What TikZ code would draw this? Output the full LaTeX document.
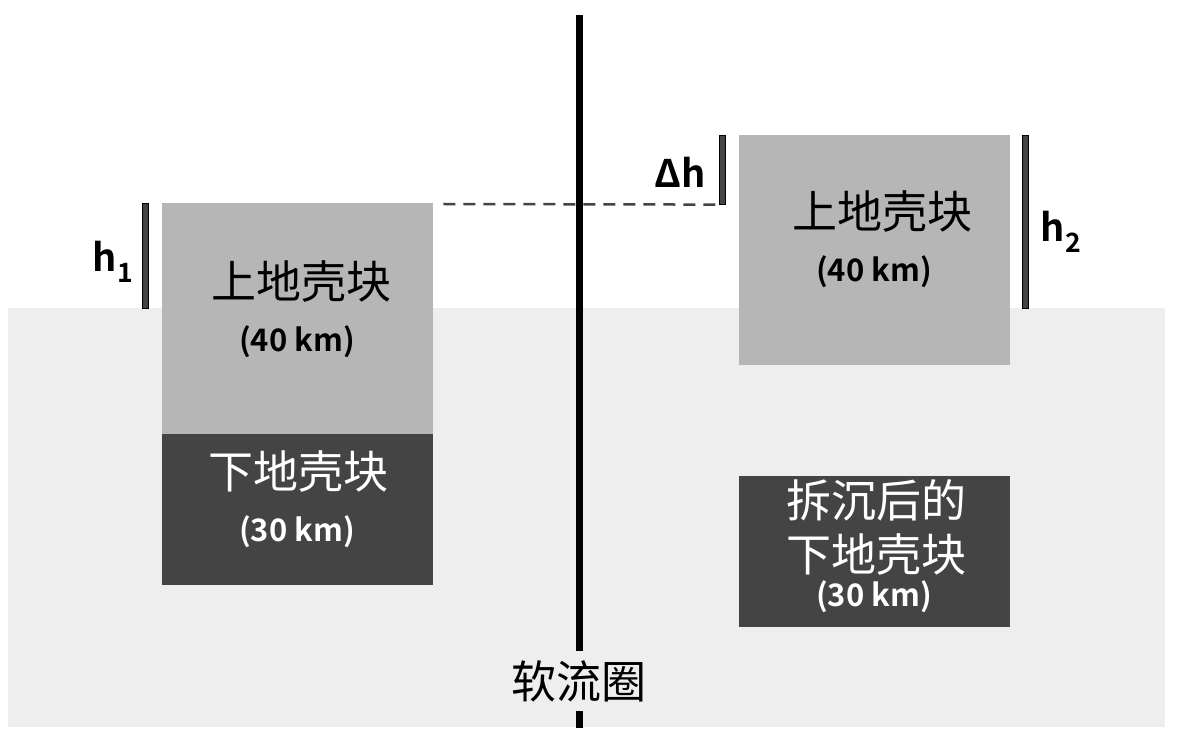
\documentclass[tikz,border=0pt]{standalone}
\usepackage{fontspec}
\setmainfont{Noto Sans CJK SC}[BoldFont={Noto Sans CJK SC Bold}]
\definecolor{bgray}{HTML}{EEEEEE}
\definecolor{ugray}{HTML}{B6B6B6}
\definecolor{dgray}{HTML}{444444}
\tikzset{
  upperblk/.style={fill=ugray, draw=none, minimum width=271pt, minimum height=231pt, anchor=north west, inner sep=0pt},
  lowerblk/.style={fill=dgray, draw=none, minimum width=271pt, minimum height=151pt, anchor=north west, inner sep=0pt},
  cjk/.style={font=\fontsize{45}{54}\selectfont, inner sep=0pt, align=center},
  km/.style={font=\fontsize{31}{32}\selectfont\bfseries, inner sep=0pt},
  hlab/.style={font=\fontsize{38}{40}\selectfont\bfseries, inner sep=0pt},
  hbar/.style={fill=dgray, draw=black, line width=0.6pt, inner sep=0pt, minimum width=6pt, anchor=north},
}
\begin{document}
\begin{tikzpicture}[x=1pt,y=-1pt]
\useasboundingbox (0,0) rectangle (1179,743);
% asthenosphere background
\fill[bgray] (8,308) rectangle (1165,727);
% central line
\coordinate (ltop) at (579,15);
\coordinate (lbot) at (579,728);
\draw[line width=7pt] (ltop) -- (lbot);
\node[cjk, fill=bgray, minimum height=60pt, inner xsep=4pt] (asth) at (579,681) {软流圈};
% left blocks
\node[upperblk] (lu) at (162,203) {};
\node[lowerblk] (ll) at (162,434) {};
\node[cjk] at (301,282) {上地壳块};
\node[km] at (297,342) {(40 km)};
\node[cjk, text=white] at (298,472) {下地壳块};
\node[km, text=white] at (297,532) {(30 km)};
% right blocks
\node[upperblk, minimum height=230pt] (ru) at (739,135) {};
\node[lowerblk] (rl) at (739,476) {};
\node[cjk] at (882,212) {上地壳块};
\node[km] at (874,272) {(40 km)};
\node[cjk, text=white] (rtxt) at (876,527) {拆沉后的\\下地壳块};
\node[km, text=white] at (874,597) {(30 km)};
% bars
\node[hbar, minimum height=105pt] (b1) at (145.5,203) {};
\node[hbar, minimum height=69pt] (b2) at (722,135) {};
\node[hbar, minimum height=173pt] (b3) at (1025,135) {};
\node[hlab] at (113,262) {h\textsubscript{1}};
\node[hlab] at (680,172) {Δh};
\node[hlab] at (1061,232) {h\textsubscript{2}};
% dashed reference line
\draw[dgray, line width=2.5pt, dash pattern=on 12pt off 8pt] (lu.north east) ++(10,1) -- (b2.south west);
\end{tikzpicture}
\end{document}
